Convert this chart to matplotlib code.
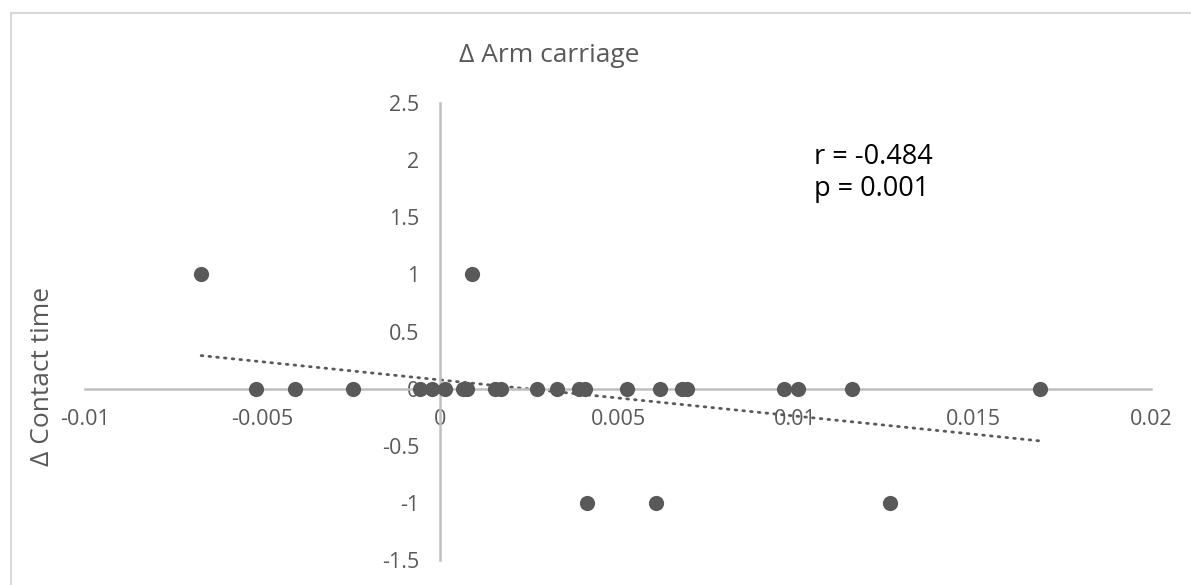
import numpy as np
import matplotlib
matplotlib.use("Agg")
import matplotlib.pyplot as plt
from matplotlib.lines import Line2D

# Data
arm_carriage = [
    -0.00673, 0.00090,
    -0.00518, -0.00408, -0.00245, -0.00056, -0.00023, 0.00014, 0.00065, 0.00076,
    0.00155, 0.00172, 0.00273, 0.00327, 0.00389, 0.00406, 0.00524, 0.00617,
    0.00679, 0.00693, 0.00966, 0.01006, 0.01158, 0.01687,
    0.00414, 0.00606, 0.01265,
]
contact_time = [
    1, 1,
    0, 0, 0, 0, 0, 0, 0, 0,
    0, 0, 0, 0, 0, 0, 0, 0,
    0, 0, 0, 0, 0, 0,
    -1, -1, -1,
]
x_ticks = [-0.01, -0.005, 0, 0.005, 0.01, 0.015, 0.02]
x_tick_labels = ["-0.01", "-0.005", "0", "0.005", "0.01", "0.015", "0.02"]
y_ticks = [-1.5, -1, -0.5, 0, 0.5, 1, 1.5, 2, 2.5]
y_tick_labels = ["-1.5", "-1", "-0.5", "0", "0.5", "1", "1.5", "2", "2.5"]
title = "\u0394 Arm carriage"
y_label = "\u0394 Contact time"
stats_text = "r = -0.484\np = 0.001"

W, H = 1191, 585
fig = plt.figure(figsize=(W / 100, H / 100), dpi=100)
plt.rcParams['font.family'] = ['Open Sans', 'DejaVu Sans']

# Outer chart border
fig.add_artist(Line2D([11 / W, 1.0], [1 - 13 / H, 1 - 13 / H], transform=fig.transFigure,
                      color="#D9D9D9", lw=1.5))
fig.add_artist(Line2D([11 / W, 11 / W], [0, 1 - 13 / H], transform=fig.transFigure,
                      color="#D9D9D9", lw=1.5))

left, right, top, bottom = 85, 1151, 103, 560
ax = fig.add_axes([left / W, (H - bottom) / H, (right - left) / W, (bottom - top) / H])
ax.set_xlim(-0.01, 0.02)
ax.set_ylim(-1.5, 2.5)

for s in ["top", "right"]:
    ax.spines[s].set_visible(False)
ax.spines["left"].set_position(("data", 0))
ax.spines["bottom"].set_position(("data", 0))
for s in ["left", "bottom"]:
    ax.spines[s].set_color("#BFBFBF")
    ax.spines[s].set_linewidth(1.8)

ax.set_xticks(x_ticks)
ax.set_xticklabels(x_tick_labels)
ax.set_yticks(y_ticks)
ax.set_yticklabels(y_tick_labels)
ax.tick_params(axis="both", length=0, labelcolor="#595959", labelsize=15.5)
ax.tick_params(axis="x", pad=15)
ax.tick_params(axis="y", pad=15)

x = np.array(arm_carriage)
y = np.array(contact_time)
ax.scatter(x, y, s=120, color="#595959", zorder=3, linewidths=0)

slope, intercept = np.polyfit(x, y, 1)
xl = np.array([x.min(), x.max()])
ax.plot(xl, slope * xl + intercept, color="#595959", lw=2.0,
        linestyle=(0, (0.6, 2.2)), dash_capstyle="round", zorder=2)

fig.text(549 / W, 1 - 56 / H, title, ha="center", va="center", fontsize=19, color="#595959")
fig.text(43 / W, 1 - 376 / H, y_label, ha="center", va="center", rotation=90,
         fontsize=19, color="#595959")
fig.text(814 / W, 1 - 173 / H, stats_text, ha="left", va="center", fontsize=19.5,
         color="#000000", linespacing=1.2)

fig.savefig("out.png", dpi=100)
